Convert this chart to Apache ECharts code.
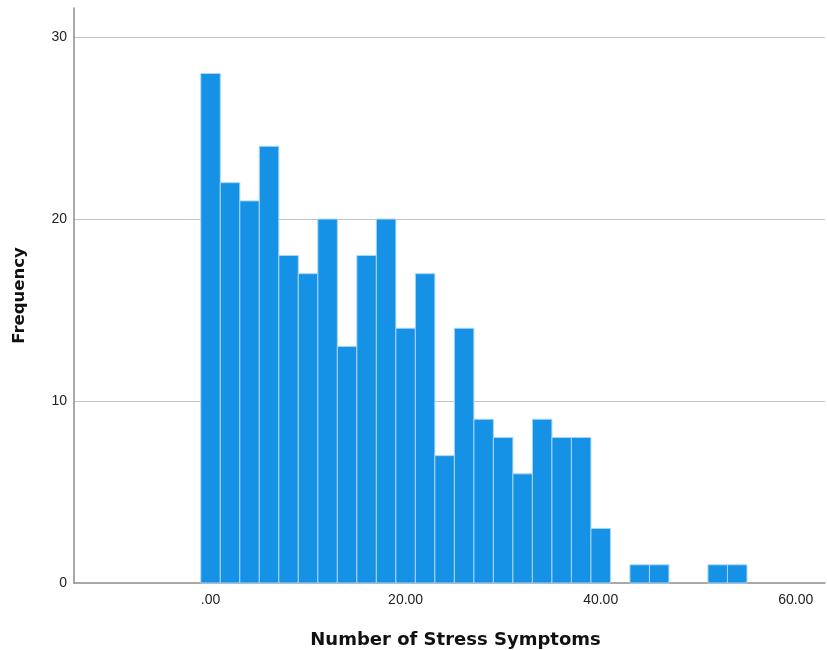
<!DOCTYPE html>
<html>
<head>
<meta charset="utf-8">
<script src="https://cdn.jsdelivr.net/npm/echarts@6/dist/echarts.min.js"></script>
<style>html,body{margin:0;padding:0;background:#fff}#c{width:827px;height:650px}</style>
</head>
<body>
<div id="c"></div>
<script>
var binCenters = [0, 2, 4, 6, 8, 10, 12, 14, 16, 18, 20, 22, 24, 26, 28, 30, 32, 34, 36, 38, 40, 42, 44, 46, 48, 50, 52, 54];
var frequencies = [28, 22, 21, 24, 18, 17, 20, 13, 18, 20, 14, 17, 7, 14, 9, 8, 6, 9, 8, 8, 3, 0, 1, 1, 0, 0, 1, 1];
var binWidth = 2;
var xTickValues = [0, 20, 40, 60];
var yTickValues = [0, 10, 20, 30];

var data = binCenters.map(function (c, i) {
  return [c - binWidth / 2, c + binWidth / 2, frequencies[i]];
}).filter(function (d) { return d[2] > 0; });

var chart = echarts.init(document.getElementById('c'), null, { renderer: 'canvas' });
chart.setOption({
  animation: false,
  backgroundColor: '#ffffff',
  grid: { left: 74, right: 2, top: 8, bottom: 67, containLabel: false, outerBoundsMode: 'none' },
  xAxis: {
    type: 'value',
    min: -14,
    max: 63,
    name: 'Number of Stress Symptoms',
    nameLocation: 'middle',
    nameGap: 48,
    nameTextStyle: { fontFamily: 'DejaVu Sans, sans-serif', fontSize: 18, fontWeight: 'bold', color: '#111', padding: [0, 0, 0, 12] },
    axisLine: { show: true, onZero: false, lineStyle: { color: '#8c8c8c', width: 1.5 } },
    axisTick: { show: false },
    splitLine: { show: false },
    axisLabel: {
      customValues: xTickValues,
      margin: 10,
      fontFamily: 'Liberation Sans, Arial, sans-serif',
      fontSize: 14,
      color: '#222',
      formatter: function (v) { return v === 0 ? '.00' : v.toFixed(2); }
    }
  },
  yAxis: {
    type: 'value',
    min: 0,
    max: 31.6,
    interval: 10,
    name: 'Frequency',
    nameLocation: 'middle',
    nameGap: 46,
    nameRotate: 90,
    nameTextStyle: { fontFamily: 'DejaVu Sans, sans-serif', fontSize: 16.5, fontWeight: 'bold', color: '#111' },
    axisLine: { show: true, onZero: false, lineStyle: { color: '#8c8c8c', width: 1.5 } },
    axisTick: { show: false },
    splitLine: { show: true, showMinLine: false, showMaxLine: false, lineStyle: { color: '#c4c4c4', width: 1.2 } },
    axisLabel: {
      showMaxLabel: false,
      margin: 7,
      fontFamily: 'Liberation Sans, Arial, sans-serif',
      fontSize: 14,
      color: '#222'
    }
  },
  series: [{
    type: 'custom',
    data: data,
    encode: { x: [0, 1], y: 2 },
    renderItem: function (params, api) {
      var p0 = api.coord([api.value(0), api.value(2)]);
      var p1 = api.coord([api.value(1), 0]);
      return {
        type: 'rect',
        shape: { x: p0[0], y: p0[1], width: p1[0] - p0[0], height: p1[1] - p0[1] },
        style: { fill: '#1591e6', stroke: '#a9d6f7', lineWidth: 1 }
      };
    }
  }]
});
</script>
</body>
</html>
